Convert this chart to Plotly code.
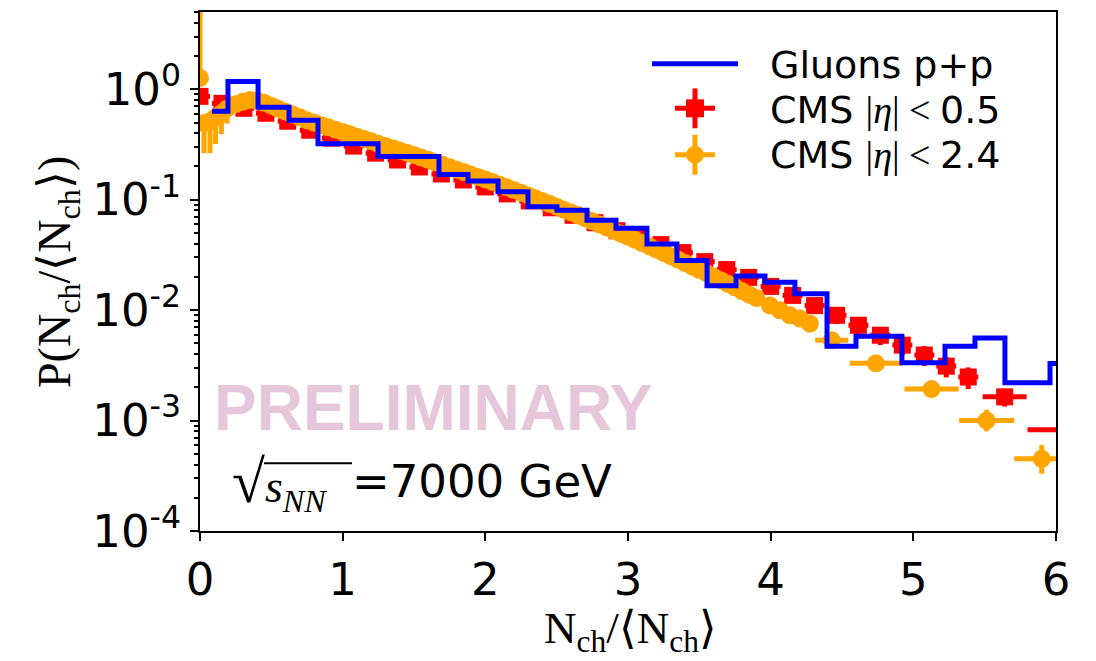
import plotly.graph_objects as go

# ---------------- data ----------------
# Gluons p+p histogram: bin edges and contents
gluon_edges = [0.084, 0.196, 0.407, 0.624, 0.827, 1.248, 1.675, 1.878, 2.089, 2.299,
               2.502, 2.713, 2.916, 3.133, 3.343, 3.554, 3.757, 3.960, 4.170, 4.395,
               4.598, 4.920, 5.222, 5.432, 5.642, 5.958, 6.10]
gluon_vals = [0.632, 1.178, 0.687, 0.524, 0.321, 0.246, 0.169, 0.148, 0.118, 0.0862,
              0.0805, 0.0651, 0.0552, 0.0397, 0.0281, 0.0166, 0.0204, 0.0179, 0.0141, 0.00472,
              0.00581, 0.00334, 0.00472, 0.00560, 0.00220, 0.00329]

# CMS |eta| < 0.5
cms05_x = [0.0, 0.154, 0.308, 0.462, 0.615, 0.769, 0.923, 1.077, 1.231, 1.385,
           1.538, 1.692, 1.846, 2.0, 2.154, 2.308, 2.462, 2.615, 2.769, 2.923,
           3.077, 3.231, 3.385, 3.538, 3.692, 3.846, 4.0, 4.154, 4.308, 4.462,
           4.615, 4.769, 4.923, 5.077, 5.231, 5.385, 5.64, 6.25]
cms05_y = [0.863, 0.746, 0.673, 0.607, 0.514, 0.426, 0.361, 0.306, 0.264, 0.229,
           0.198, 0.171, 0.151, 0.1306, 0.113, 0.0977, 0.0845, 0.0723, 0.0619, 0.0524,
           0.0453, 0.0392, 0.0332, 0.0275, 0.0233, 0.0198, 0.0164, 0.0136, 0.0110, 0.00898,
           0.00730, 0.00593, 0.00482, 0.00392, 0.00311, 0.00248, 0.00164, 0.000826]
cms05_xerr = [0.07] * 36 + [0.154, 0.45]
cms05_yerr = [0.0] * 28 + [0.0018, 0.0015, 0.0013, 0.0011, 0.0009, 0.0008, 0.00065, 0.00055, 0.0003, 0.0]

# CMS |eta| < 2.4
cms24_x = [0.0, 0.028, 0.07, 0.109, 0.15, 0.19,
           0.25, 0.30, 0.35, 0.40, 0.45, 0.50, 0.55, 0.60, 0.65, 0.70,
           0.75, 0.80, 0.85, 0.90, 0.95, 1.00, 1.05, 1.10, 1.15, 1.20,
           1.25, 1.30, 1.35, 1.40, 1.45, 1.50, 1.55, 1.60, 1.65, 1.70,
           1.75, 1.80, 1.85, 1.90, 1.95, 2.00, 2.05, 2.10, 2.15, 2.20,
           2.25, 2.30, 2.35, 2.40, 2.45, 2.50, 2.55, 2.60, 2.65, 2.70,
           2.75, 2.80, 2.85, 2.90, 2.95, 3.00, 3.05, 3.10, 3.15, 3.20,
           3.25, 3.30, 3.35, 3.40, 3.45, 3.50, 3.55, 3.60, 3.65, 3.70,
           3.75, 3.80, 3.85, 3.90,
           3.995, 4.065, 4.135, 4.205, 4.275,
           4.428, 4.738, 5.128, 5.514, 5.90]
cms24_y = [1.267, 0.493, 0.514, 0.558, 0.606, 0.670,
           0.734, 0.770, 0.798, 0.791, 0.754, 0.711, 0.666, 0.626, 0.590, 0.558,
           0.524, 0.498, 0.473, 0.453, 0.431, 0.411, 0.392, 0.372, 0.355, 0.338,
           0.321, 0.307, 0.293, 0.279, 0.2667, 0.2536, 0.2413, 0.2296, 0.2181, 0.2070,
           0.1969, 0.1873, 0.1782, 0.1692, 0.1606, 0.1526, 0.1448, 0.1369, 0.1295, 0.1224,
           0.1157, 0.1092, 0.1030, 0.0972, 0.0918, 0.0864, 0.0813, 0.0766, 0.0721, 0.0678,
           0.0637, 0.0598, 0.0561, 0.0526, 0.0493, 0.0463, 0.0433, 0.0405, 0.0378, 0.0353,
           0.0330, 0.0308, 0.0287, 0.0267, 0.0249, 0.0232, 0.0216, 0.0201, 0.0187, 0.0173,
           0.0161, 0.0149, 0.0138, 0.0129,
           0.01104, 0.00996, 0.00898, 0.00839, 0.00755,
           0.00534, 0.00330, 0.00193, 0.00100, 0.00045]
n_bulk = 74 + 5
cms24_err_plus = [4.5, 0.03, 0.03, 0.03, 0.03, 0.03] + [0.0] * n_bulk + [0.0004, 0.0003, 0.0002, 0.00025, 0.00015]
cms24_err_minus = [0.05, 0.229, 0.25, 0.239, 0.214, 0.18] + [0.0] * n_bulk + [0.0004, 0.0003, 0.0002, 0.0002, 0.00012]
cms24_xerr = [0.0] * 6 + [0.0] * n_bulk + [0.116, 0.184, 0.19, 0.193, 0.193]

y_tick_vals = [1e-4, 1e-3, 1e-2, 1e-1, 1]
y_tick_text = ["10<sup>-4</sup>", "10<sup>-3</sup>", "10<sup>-2</sup>", "10<sup>-1</sup>", "10<sup>0</sup>"]
x_tick_vals = [0, 1, 2, 3, 4, 5, 6]

BLUE = "#0000FF"
RED = "#FF0000"
ORANGE = "#FFA500"
SANS = "DejaVu Sans"
SERIF = "Liberation Serif"

# ---------------- figure ----------------
fig = go.Figure()

fig.add_trace(go.Scatter(
    x=cms05_x, y=cms05_y, mode="markers", name="CMS |η|<0.5",
    marker=dict(symbol="square", size=17, color=RED, line=dict(width=0)),
    error_x=dict(type="data", array=cms05_xerr, color=RED, thickness=5, width=0),
    error_y=dict(type="data", array=cms05_yerr, color=RED, thickness=5, width=0),
    showlegend=False, cliponaxis=True))

fig.add_trace(go.Scatter(
    x=cms24_x, y=cms24_y, mode="markers", name="CMS |η|<2.4",
    marker=dict(symbol="circle", size=18, color=ORANGE, line=dict(width=0)),
    error_x=dict(type="data", array=cms24_xerr, color=ORANGE, thickness=5, width=0),
    error_y=dict(type="data", symmetric=False, array=cms24_err_plus,
                 arrayminus=cms24_err_minus, color=ORANGE, thickness=5, width=0),
    showlegend=False, cliponaxis=True))

fig.add_trace(go.Scatter(
    x=gluon_edges, y=gluon_vals + [gluon_vals[-1]], mode="lines", name="Gluons p+p",
    line=dict(color=BLUE, width=5, shape="hv"), showlegend=False, cliponaxis=True))

L, R, T, B = 200, 40, 10, 130
W, H = 1096, 661
PW, PH = W - L - R, H - T - B


def px(x):
    return (x - L) / PW


def py(y):
    return (H - B - y) / PH


fig.update_layout(
    width=W, height=H,
    margin=dict(l=L, r=R, t=T, b=B, pad=0),
    paper_bgcolor="white", plot_bgcolor="white",
    showlegend=False,
    xaxis=dict(range=[0, 6], showline=True, linecolor="black", linewidth=2, mirror=True,
               ticks="outside", ticklen=8, tickwidth=2, tickcolor="black",
               tickmode="array", tickvals=x_tick_vals,
               tickfont=dict(family=SANS, size=45, color="black"),
               showgrid=False, zeroline=False),
    yaxis=dict(type="log", range=[-4, 0.70], showline=True, linecolor="black", linewidth=2,
               mirror=True, ticks="outside", ticklen=8, tickwidth=2, tickcolor="black",
               tickmode="array", tickvals=y_tick_vals, ticktext=y_tick_text,
               tickfont=dict(family=SANS, size=45, color="black"),
               minor=dict(ticks="outside", ticklen=4, tickwidth=1.5, tickcolor="black",
                          dtick="D1", showgrid=False),
               showgrid=False, zeroline=False),
)

ann = []
# watermark
ann.append(dict(x=px(212), y=py(408), xref="paper", yref="paper", xanchor="left", yanchor="middle",
                text="<b>PRELIMINARY</b>", showarrow=False,
                font=dict(family="Liberation Sans", size=64, color="rgb(230,199,217)")))
# energy label
ann.append(dict(x=px(230), y=py(484), xref="paper", yref="paper", xanchor="left", yanchor="middle",
                text="<span style='font-size:60px'>√</span><i>s</i><sub><i>NN</i></sub>", showarrow=False,
                font=dict(family=SERIF, size=46, color="black")))
ann.append(dict(x=px(350), y=py(481), xref="paper", yref="paper", xanchor="left", yanchor="middle",
                text="=7000 GeV", showarrow=False,
                font=dict(family=SANS, size=45, color="black")))
# legend texts
math = "font-family:%s" % SERIF
ann.append(dict(x=px(768), y=py(63), xref="paper", yref="paper", xanchor="left", yanchor="middle",
                text="Gluons p+p", showarrow=False, font=dict(family=SANS, size=38, color="black")))
ann.append(dict(x=px(768), y=py(108), xref="paper", yref="paper", xanchor="left", yanchor="middle",
                text="CMS <span style='%s'>|<i>η</i>| &lt; </span>0.5" % math, showarrow=False,
                font=dict(family=SANS, size=38, color="black")))
ann.append(dict(x=px(768), y=py(154), xref="paper", yref="paper", xanchor="left", yanchor="middle",
                text="CMS <span style='%s'>|<i>η</i>| &lt; </span>2.4" % math, showarrow=False,
                font=dict(family=SANS, size=38, color="black")))
# axis titles
ann.append(dict(x=px(630), y=py(631), xref="paper", yref="paper", xanchor="center", yanchor="middle",
                text="N<sub>ch</sub>/⟨N<sub>ch</sub>⟩", showarrow=False,
                font=dict(family=SERIF, size=45, color="black")))
ann.append(dict(x=px(58), y=py(271), xref="paper", yref="paper", xanchor="center", yanchor="middle",
                text="P(N<sub>ch</sub>/⟨N<sub>ch</sub>⟩)", showarrow=False, textangle=-90,
                font=dict(family=SERIF, size=46, color="black")))
fig.update_layout(annotations=ann)

shapes = []
# sqrt vinculum
shapes.append(dict(type="line", xref="paper", yref="paper", x0=px(264), x1=px(352), y0=py(463), y1=py(463),
                   line=dict(color="black", width=2)))
# legend: blue line
shapes.append(dict(type="line", xref="paper", yref="paper", x0=px(652), x1=px(738), y0=py(62), y1=py(62),
                   line=dict(color=BLUE, width=5)))
# legend: marker symbols with error bars
for cy, col, kind in [(106.7, RED, "rect"), (153.3, ORANGE, "circle")]:
    shapes.append(dict(type="line", xref="paper", yref="paper", x0=px(675), x1=px(715), y0=py(cy), y1=py(cy),
                       line=dict(color=col, width=5)))
    shapes.append(dict(type="line", xref="paper", yref="paper", x0=px(695), x1=px(695), y0=py(cy - 20), y1=py(cy + 20),
                       line=dict(color=col, width=5)))
    shapes.append(dict(type=kind, xref="paper", yref="paper", x0=px(686), x1=px(704), y0=py(cy - 9), y1=py(cy + 9),
                       fillcolor=col, line=dict(width=0)))
fig.update_layout(shapes=shapes)

fig.write_html("out.html")
